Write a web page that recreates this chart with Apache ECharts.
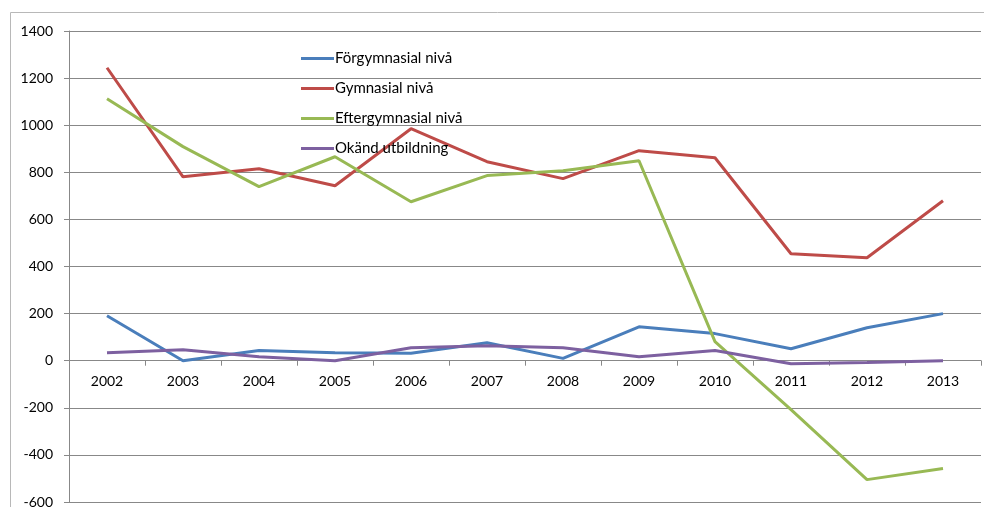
<!DOCTYPE html>
<html>
<head>
<meta charset="utf-8">
<script src="https://cdn.jsdelivr.net/npm/echarts@6/dist/echarts.min.js"></script>
<style>
  html, body { margin: 0; padding: 0; background: #fff; }
  #chart { width: 984px; height: 507px; }
</style>
</head>
<body>
<div id="chart"></div>
<script>
  var years = ['2002','2003','2004','2005','2006','2007','2008','2009','2010','2011','2012','2013'];
  var forgymnasial = [191, 0, 43, 34, 32, 76, 10, 144, 115, 51, 140, 200];
  var gymnasial = [1244, 781, 815, 743, 985, 845, 773, 892, 862, 454, 437, 679];
  var eftergymnasial = [1112, 909, 739, 866, 675, 786, 807, 849, 81, -208, -505, -458];
  var okand = [34, 47, 17, 0, 55, 64, 55, 17, 43, -13, -8, 0];
  var yMin = -600, yMax = 1400, yStep = 200;

  var myChart = echarts.init(document.getElementById('chart'));
  var font = 'Lato, "Open Sans", sans-serif';
  var gridTop = 31, gridBottom = 5;
  // move the category axis up to the zero line (labels follow it)
  var plotH = 507 - gridTop - gridBottom;
  var zeroOffset = -plotH * (0 - yMin) / (yMax - yMin);

  function line(name, color, data) {
    return {
      name: name,
      type: 'line',
      data: data,
      symbol: 'none',
      color: color,
      lineStyle: { width: 3, color: color },
      z: 3
    };
  }

  var option = {
    animation: false,
    textStyle: { fontFamily: font },
    graphic: [{
      type: 'rect',
      shape: { x: 10.5, y: 12.5, width: 1100, height: 600 },
      style: { fill: 'none', stroke: '#b8b8b8', lineWidth: 1 },
      silent: true
    }],
    legend: {
      orient: 'vertical',
      left: 296,
      top: 46,
      itemGap: 15,
      icon: 'rect',
      itemWidth: 33,
      itemHeight: 3,
      textStyle: { fontFamily: font, fontSize: 15, color: '#000', padding: [0, 0, 0, -4] },
      data: ['Förgymnasial nivå', 'Gymnasial nivå', 'Eftergymnasial nivå', 'Okänd utbildning']
    },
    grid: { left: 69, right: 3, top: gridTop, bottom: gridBottom, containLabel: false, outerBoundsMode: 'none' },
    xAxis: {
      type: 'category',
      data: years,
      boundaryGap: true,
      position: 'bottom',
      offset: zeroOffset,
      axisLine: { onZero: false, lineStyle: { color: '#888', width: 1 } },
      axisTick: { show: true, length: 5, lineStyle: { color: '#888' } },
      axisLabel: { color: '#000', fontSize: 14, margin: 14, fontFamily: font },
      splitLine: { show: false }
    },
    yAxis: {
      type: 'value',
      min: yMin,
      max: yMax,
      interval: yStep,
      axisLine: { show: true, lineStyle: { color: '#888', width: 1 } },
      axisTick: { show: true, length: 5, lineStyle: { color: '#888' } },
      axisLabel: { color: '#000', fontSize: 14, margin: 16, fontFamily: font, formatter: function (v) { return String(v); } },
      splitLine: { show: true, lineStyle: { color: '#888', width: 1 } }
    },
    series: [
      line('Förgymnasial nivå', '#4a7ebb', forgymnasial),
      line('Gymnasial nivå', '#be4b48', gymnasial),
      line('Eftergymnasial nivå', '#98b954', eftergymnasial),
      line('Okänd utbildning', '#7d60a0', okand)
    ]
  };
  myChart.setOption(option);
</script>
</body>
</html>
